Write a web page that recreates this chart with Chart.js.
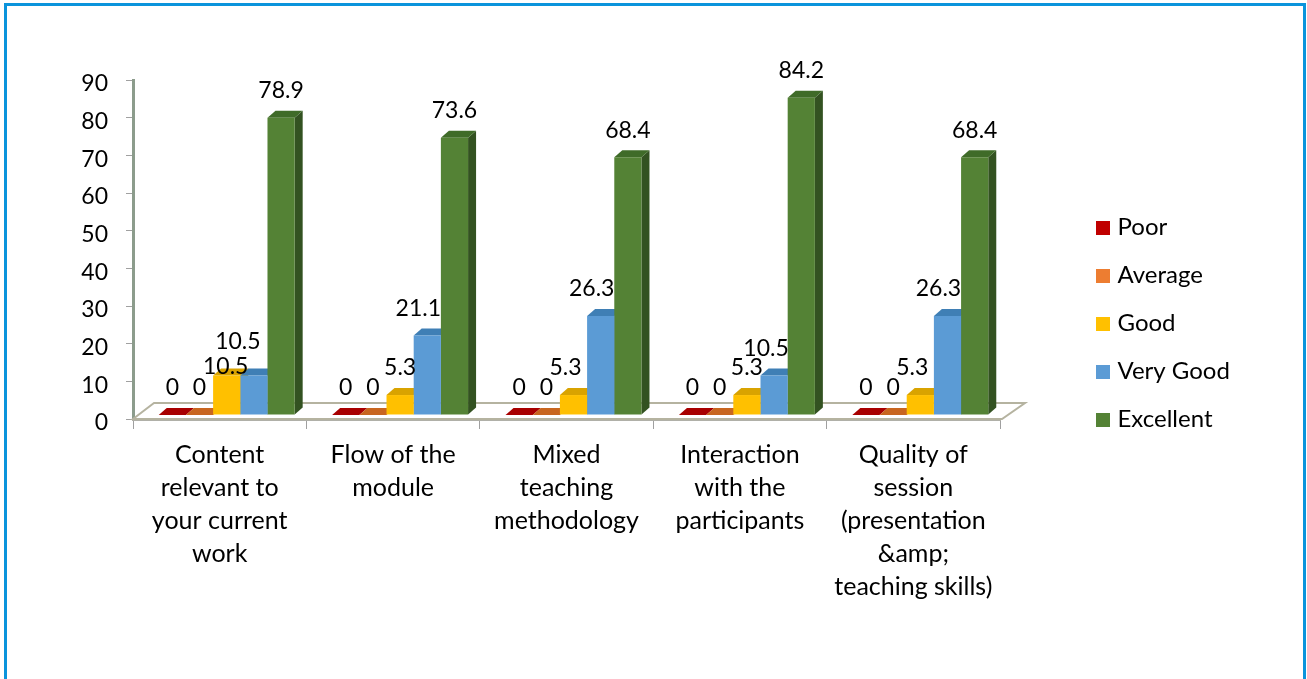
<!DOCTYPE html>
<html><head><meta charset="utf-8">
<style>
html,body{margin:0;padding:0;background:#fff;overflow:hidden}
#frame{position:absolute;left:0;top:0;width:1307px;height:679px}
#frame:before{content:"";position:absolute;left:4px;top:3px;right:1px;bottom:-10px;border:3px solid #0a94dc;pointer-events:none}
canvas{position:absolute;left:0;top:0}
</style>
<script src="https://cdn.jsdelivr.net/npm/chart.js@4"></script>
</head><body><div id="frame"><canvas id="c" width="1307" height="679"></canvas></div>
<script>
const categories=[
 ["Content","relevant to","your current","work"],
 ["Flow of the","module"],
 ["Mixed","teaching","methodology"],
 ["Interaction","with the","participants"],
 ["Quality of","session","(presentation","&amp;","teaching skills)"]
];
const poor=[0,0,0,0,0];
const average=[0,0,0,0,0];
const good=[10.5,5.3,5.3,5.3,5.3];
const veryGood=[10.5,21.1,26.3,10.5,26.3];
const excellent=[78.9,73.6,68.4,84.2,68.4];
const seriesNames=["Poor","Average","Good","Very Good","Excellent"];
const seriesValues=[poor,average,good,veryGood,excellent];
const frontColors=["#c00000","#ed7d31","#ffc000","#5b9bd5","#548235"];
const topColors=["#a80000","#c8661f","#d9a300","#3f7fb5","#3f6b28"];
const sideColors=["#800000","#a5521a","#b88a00","#3b6c99","#335221"];
const yTicks=[0,10,20,30,40,50,60,70,80,90];

const FONT="Lato, Carlito, sans-serif";
const SHIFT={x:7,y:-4}, DEPTH={x:8,y:7};
// label nudges [dataset][category] -> [dx, dy] relative to the default spot above the bar
const labelNudge={
 "2,0":[-1,18],"2,2":[-8,0],"2,4":[-8,0],
 "3,0":[-16,-7],"3,1":[-9,0],"3,2":[-9,0],"3,3":[-8,0],"3,4":[-9,0]
};

function swatch(color){
 const c=document.createElement("canvas");
 c.width=14;c.height=14;
 const g=c.getContext("2d");g.fillStyle=color;g.fillRect(0,0,14,14);
 return c;
}

const depthPlugin={
 id:"depth",
 beforeDatasetsDraw(chart){
  const ctx=chart.ctx,a=chart.chartArea;
  ctx.save();
  ctx.beginPath();
  ctx.moveTo(a.left,a.bottom);
  ctx.lineTo(a.left+21,a.bottom-16);
  ctx.lineTo(a.right+25,a.bottom-16);
  ctx.lineTo(a.right+2,a.bottom);
  ctx.closePath();
  ctx.fillStyle="#ffffff";ctx.fill();
  ctx.lineWidth=2;ctx.strokeStyle="#b5b3a0";ctx.stroke();
  ctx.translate(SHIFT.x,SHIFT.y);
  chart.data.datasets.forEach((ds,i)=>{
   chart.getDatasetMeta(i).data.forEach(b=>{
    const l=b.x-b.width/2,r=b.x+b.width/2,t=b.y,bt=b.base;
    ctx.fillStyle=sideColors[i];
    ctx.beginPath();ctx.moveTo(r,t);ctx.lineTo(r+DEPTH.x,t-DEPTH.y);ctx.lineTo(r+DEPTH.x,bt-DEPTH.y);ctx.lineTo(r,bt);ctx.closePath();ctx.fill();
    ctx.fillStyle=topColors[i];
    ctx.beginPath();ctx.moveTo(l,t);ctx.lineTo(l+DEPTH.x,t-DEPTH.y);ctx.lineTo(r+DEPTH.x,t-DEPTH.y);ctx.lineTo(r,t);ctx.closePath();ctx.fill();
   });
  });
 },
 afterDatasetsDraw(chart){
  const ctx=chart.ctx;
  ctx.restore();
  ctx.save();
  ctx.font="23px "+FONT;ctx.fillStyle="#000";ctx.textAlign="center";ctx.textBaseline="middle";
  chart.data.datasets.forEach((ds,i)=>{
   chart.getDatasetMeta(i).data.forEach((b,j)=>{
    const n=labelNudge[i+","+j]||[0,0];
    ctx.fillText(String(ds.data[j]),b.x+SHIFT.x+n[0],b.y+SHIFT.y-27+n[1]);
   });
  });
  ctx.restore();
 },
 beforeLayout(chart){
  const lg=chart.legend;
  if(lg&&!lg._wrapped){
   const f=lg.fit;
   lg.fit=function(){f.call(this);this.width=307;};
   lg._wrapped=true;
  }
 },
 afterLayout(chart){
  const lg=chart.legend;
  const p=lg.options.labels.padding;
  lg.left=1100.5-p;lg.right=lg.left+200;lg.top=0;lg.bottom=647;
 }
};

new Chart(document.getElementById("c"),{
 type:"bar",
 data:{labels:categories,datasets:seriesNames.map((n,i)=>({
  label:n,data:seriesValues[i],backgroundColor:frontColors[i],borderWidth:0,clip:false,
  categoryPercentage:0.784,barPercentage:1
 }))},
 plugins:[depthPlugin],
 options:{
  responsive:false,animation:false,
  layout:{padding:{top:80,left:0,right:0,bottom:0}},
  plugins:{tooltip:{enabled:false},
   legend:{position:"right",labels:{
    usePointStyle:true,boxWidth:5,boxHeight:14,padding:24,color:"#000",font:{family:FONT,size:24},
    generateLabels(chart){
     return seriesNames.map((n,i)=>({text:n,fillStyle:frontColors[i],strokeStyle:frontColors[i],lineWidth:0,pointStyle:swatch(frontColors[i]),datasetIndex:i,fontColor:"#000"}));
    }
   }}},
  scales:{
   x:{
    afterFit(s){s.height=260;},
    border:{color:"#b0b0a8",width:3},
    grid:{drawOnChartArea:false,drawTicks:true,tickLength:10,tickColor:"#a0a0a0",tickWidth:1},
    ticks:{padding:9,maxRotation:0,autoSkip:false,color:"#000",font:{family:FONT,size:25,lineHeight:1.32}}
   },
   y:{
    min:0,max:90,
    afterBuildTicks(s){s.ticks=yTicks.map(v=>({value:v}));},
    afterFit(s){s.width=133;},
    border:{color:"#8c9c8c",width:3},
    grid:{drawOnChartArea:false,drawTicks:true,tickLength:7,tickColor:"#a0a0a0",tickWidth:1},
    ticks:{padding:18,labelOffset:4,color:"#000",font:{family:FONT,size:23}}
   }
  }
 }
});
</script></body></html>
